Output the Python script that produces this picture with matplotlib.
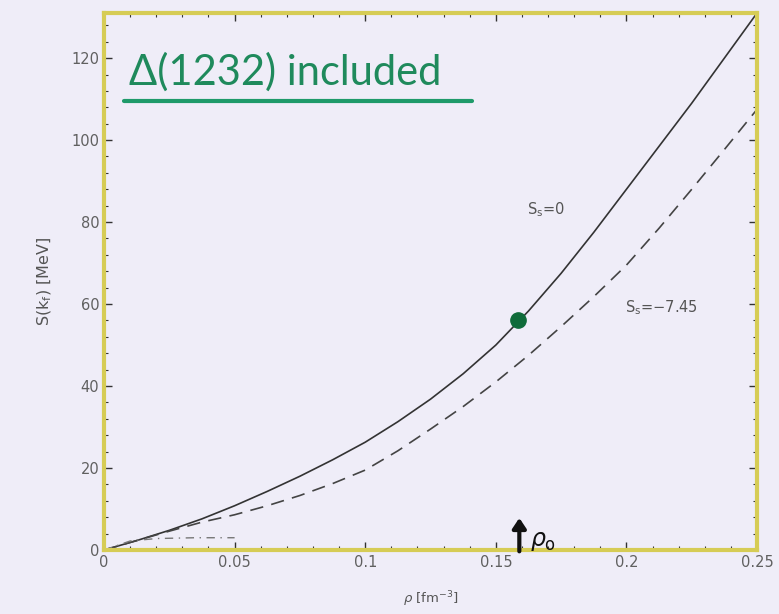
import matplotlib
matplotlib.use('Agg')
from matplotlib import pyplot as plt
from matplotlib.ticker import MultipleLocator

# data
rho = [0, 0.0125, 0.025, 0.0375, 0.05, 0.0625, 0.075, 0.0875, 0.1, 0.1125,
       0.125, 0.1375, 0.15, 0.1625, 0.175, 0.1875, 0.2, 0.2125, 0.225,
       0.2375, 0.25]
S_ss0 = [0, 2.3, 4.8, 7.6, 10.8, 14.3, 18.0, 22.0, 26.3, 31.3,
         36.8, 43.0, 50.0, 58.3, 67.5, 77.5, 88.0, 98.5, 109.0,
         120.0, 131.0]
S_ss745 = [0, 2.3, 4.6, 6.8, 8.6, 10.8, 13.3, 16.2, 19.5, 24.2,
           29.5, 35.0, 41.0, 47.5, 54.5, 61.8, 69.5, 78.5, 88.0,
           97.7, 107.5]
rho_low = [0, 0.01, 0.02, 0.035, 0.05]
S_low = [0, 2.2, 2.8, 3.0, 3.0]
rho0, S_rho0 = 0.1585, 56.0

bg = '#efedf8'
fig = plt.figure(figsize=(7.79, 6.14), dpi=100, facecolor=bg)
ax = fig.add_axes([0.1335, 0.1042, 0.8383, 0.8746], facecolor=bg)

ax.plot(rho, S_ss0, color='#333333', lw=1.2)
ax.plot(rho, S_ss745, color='#444444', lw=1.2, ls=(0, (8, 5)))
ax.plot(rho_low, S_low, color='#777777', lw=1.0, ls=(0, (6, 4, 1, 4)))
ax.plot([rho0], [S_rho0], 'o', color='#0f6b3a', ms=11)

ax.set_xlim(0, 0.25)
ax.set_ylim(0, 131)
ax.xaxis.set_major_locator(MultipleLocator(0.05))
ax.xaxis.set_minor_locator(MultipleLocator(0.01))
ax.yaxis.set_major_locator(MultipleLocator(20))
ax.yaxis.set_minor_locator(MultipleLocator(4))
ax.set_xticks([0, 0.05, 0.1, 0.15, 0.2, 0.25])
ax.set_xticklabels(['0', '0.05', '0.1', '0.15', '0.2', '0.25'])
ax.tick_params(which='both', direction='in', top=True, right=True,
               color='#333333', labelcolor='#606060', labelsize=10.5)
ax.tick_params(which='major', length=6, width=1)
ax.tick_params(which='minor', length=3, width=0.8)
for s in ax.spines.values():
    s.set_color('#d6cc55')
    s.set_linewidth(3)

ax.set_xlabel(r'$\rho$ [fm$^{-3}$]', color='#555555', fontsize=9.5, labelpad=14)
ax.set_ylabel(r'S(k$_{\rm f}$) [MeV]', color='#555555', fontsize=11.5, labelpad=12)

ax.text(0.162, 82, r'S$_{\rm s}$=0', color='#555555', fontsize=10.5)
ax.text(0.1995, 58, r'S$_{\rm s}$=$-$7.45', color='#555555', fontsize=10.5)

# handwritten notes
ax.text(0.0095, 113.5, u'\u0394(1232) included', color='#1f8a5c', fontsize=30,
        family='Lato')
ax.plot([0.0075, 0.141], [109.5, 109.5], color='#1f9a6a', lw=3,
        solid_capstyle='round')
ax.annotate('', xy=(0.159, 8.5), xytext=(0.159, -1),
            arrowprops=dict(arrowstyle='-|>,head_width=0.4,head_length=0.6',
                            color='#111111', lw=3))
ax.text(0.163, 1.0, r'$\rho_{\rm o}$', color='#111111', fontsize=17)

fig.savefig('out.png', dpi=100, facecolor=bg)
